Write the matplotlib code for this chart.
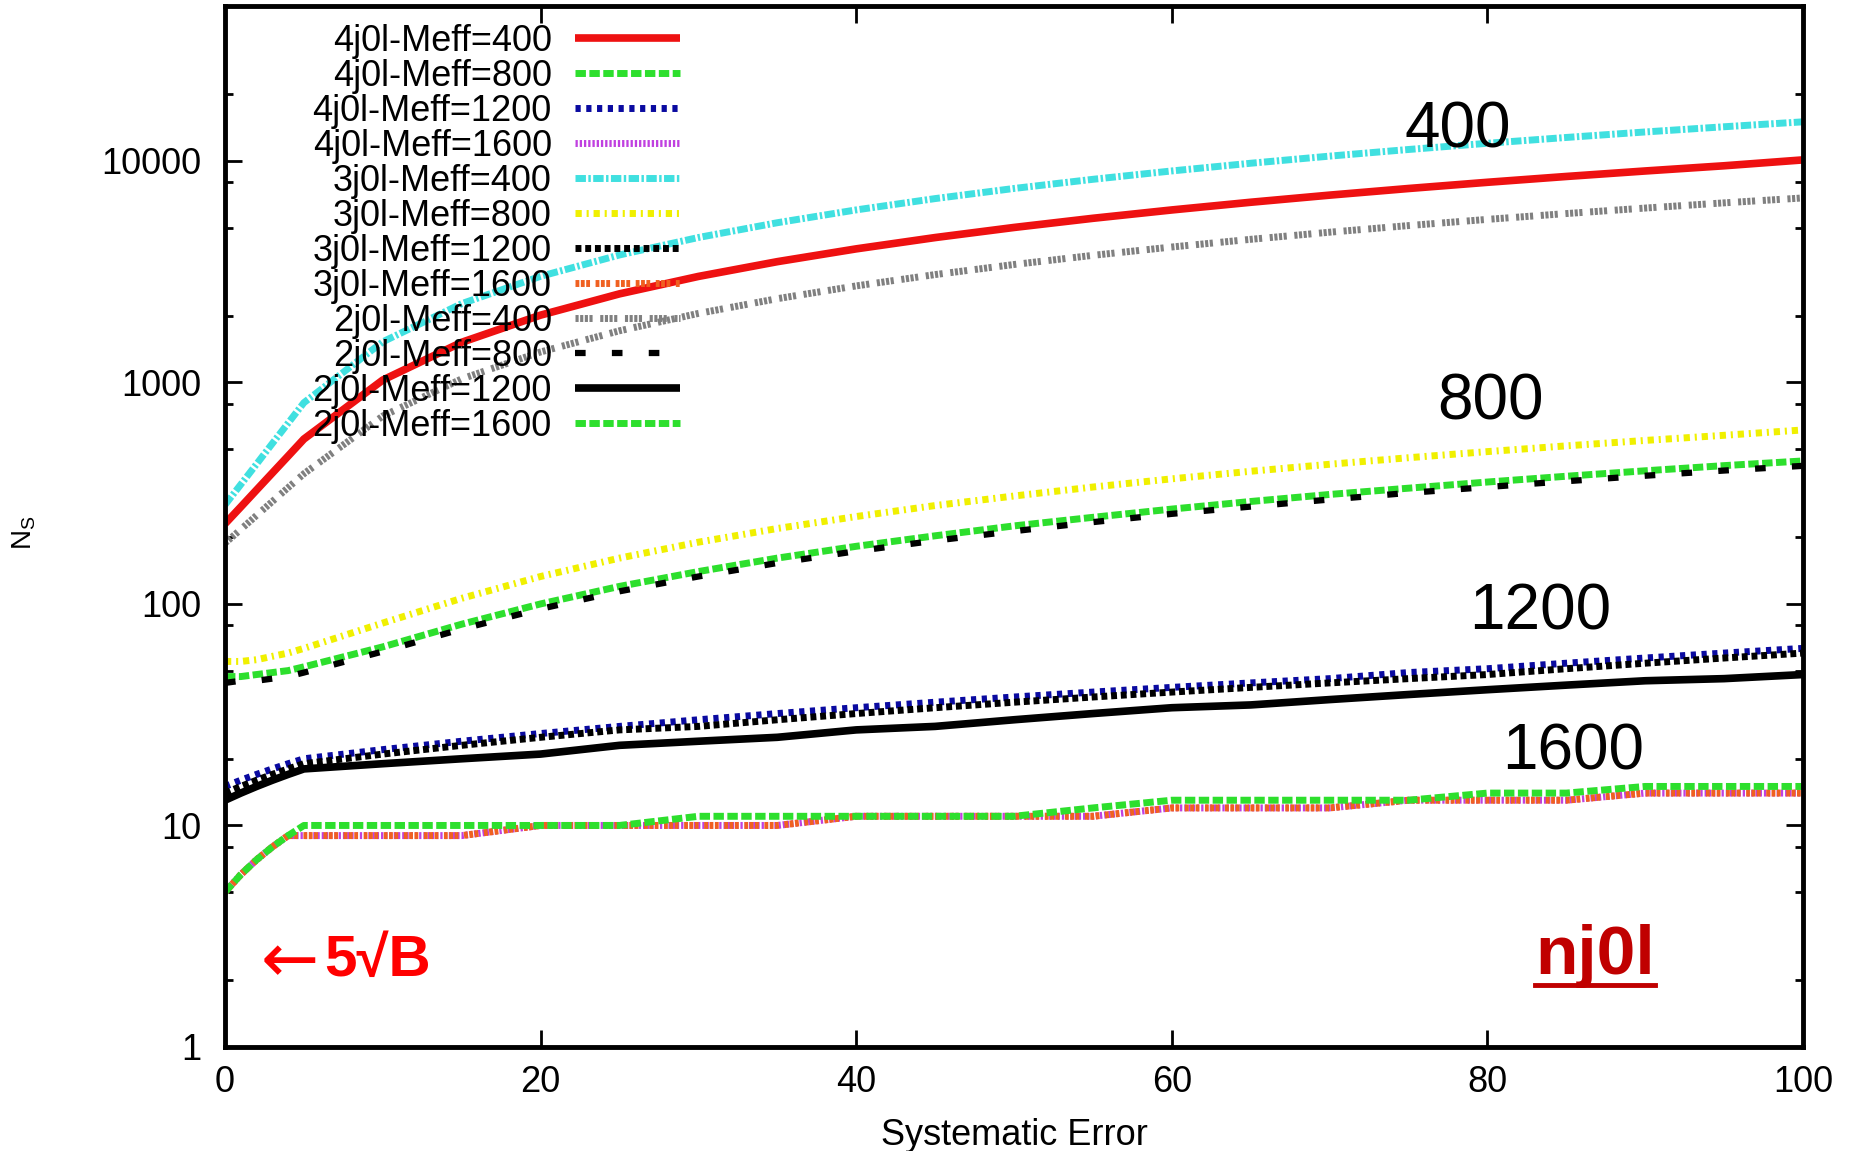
import matplotlib
matplotlib.use('Agg')
import matplotlib.pyplot as plt
from matplotlib.lines import Line2D
from matplotlib.ticker import LogLocator, NullFormatter, NullLocator

plt.rcParams['font.family'] = ['Liberation Sans', 'DejaVu Sans']

# ---------------- data ----------------
sys_err = [0, 1, 2, 3, 4, 5, 10, 15, 20, 25, 30, 35, 40, 45, 50, 55, 60, 65, 70, 75, 80, 85, 90, 95, 100]

series_labels = ['4j0l-Meff=400', '4j0l-Meff=800', '4j0l-Meff=1200', '4j0l-Meff=1600',
                 '3j0l-Meff=400', '3j0l-Meff=800', '3j0l-Meff=1200', '3j0l-Meff=1600',
                 '2j0l-Meff=400', '2j0l-Meff=800', '2j0l-Meff=1200', '2j0l-Meff=1600']

n4j_400 = [230, 274, 327, 390, 465, 555, 1025, 1517, 2012, 2510, 3008, 3507, 4006, 4505, 5004,
           5504, 6003, 6503, 7002, 7502, 8002, 8501, 9001, 9501, 10100]
n4j_800 = [47, 47, 48, 49, 50, 52, 64, 81, 100, 120, 140, 161, 182, 203, 225, 246, 268, 290, 312,
           333, 355, 377, 399, 421, 442]
n4j_1200 = [15, 16, 17, 18, 19, 20, 22, 24, 26, 28, 30, 32, 34, 36, 38, 40, 42, 44, 46, 49, 51, 54,
            57, 60, 63]
n4j_1600 = [5, 6, 7, 8, 9, 9, 9, 9, 10, 10, 10, 10, 11, 11, 11, 11, 12, 12, 12, 13, 13, 13, 14, 14, 14]

n3j_400 = [280, 346, 428, 530, 655, 810, 1525, 2267, 3012, 3760, 4508, 5257, 6006, 6755, 7505,
           8254, 9004, 9754, 10503, 11253, 12003, 12752, 13502, 14252, 15001]
n3j_800 = [55, 55, 56, 58, 60, 63, 82, 106, 133, 161, 190, 219, 248, 278, 307, 337, 367, 397, 427,
           457, 487, 517, 547, 577, 610]
n3j_1200 = [14, 15, 16, 17, 18, 19, 21, 23, 25, 27, 28, 30, 32, 34, 36, 38, 40, 42, 44, 46, 48, 51,
            54, 57, 60]
n3j_1600 = [5, 6, 7, 8, 9, 9, 9, 9, 10, 10, 10, 10, 11, 11, 11, 11, 12, 12, 12, 13, 13, 13, 14, 14, 14]

n2j_400 = [188, 217, 251, 290, 335, 387, 705, 1037, 1372, 1710, 2048, 2387, 2726, 3066, 3405,
           3745, 4084, 4424, 4763, 5103, 5443, 5782, 6122, 6462, 6801]
n2j_800 = [44, 45, 45, 46, 47, 49, 61, 77, 95, 114, 133, 153, 173, 193, 213, 234, 255, 275, 296,
           317, 337, 358, 379, 400, 420]
n2j_1200 = [13, 14, 15, 16, 17, 18, 19, 20, 21, 23, 24, 25, 27, 28, 30, 32, 34, 35, 37, 39, 41, 43,
            45, 46, 48]
n2j_1600 = [5, 6, 7, 8, 9, 10, 10, 10, 10, 10, 11, 11, 11, 11, 11, 12, 13, 13, 13, 13, 14, 14, 15, 15, 15]

all_series = [n4j_400, n4j_800, n4j_1200, n4j_1600,
              n3j_400, n3j_800, n3j_1200, n3j_1600,
              n2j_400, n2j_800, n2j_1200, n2j_1600]

x_ticks = [0, 20, 40, 60, 80, 100]
x_tick_labels = ['0', '20', '40', '60', '80', '100']
y_ticks = [1, 10, 100, 1000, 10000]
y_tick_labels = ['1', '10', '100', '1000', '10000']

mass_labels = ['400', '800', '1200', '1600']

# ---------------- styles ----------------
colors = ['#ee1111', '#2ddf2d', '#0a0aa0', '#c040e0',
          '#40e0e0', '#f0f000', '#000000', '#f06020',
          '#808080', '#000000', '#000000', '#2ddf2d']
dashes = [None, (1.5, 0.5), (0.75, 0.8), (0.33, 0.28),
          (1.5, 0.35, 0.35, 0.35), (0.9, 0.7, 0.3, 0.7), (0.85, 0.55), (0.55, 0.22, 0.55, 0.22, 0.55, 0.8),
          (0.45, 0.22, 0.45, 0.22, 0.45, 0.22, 0.45, 1.1), (1.7, 4.2), None, (1.5, 0.5)]
widths = [5.5, 5, 5, 5, 5, 5, 5, 5, 5, 4.5, 5.5, 5]

W, H = 1857, 1151
fig = plt.figure(figsize=(W / 100, H / 100), dpi=100)
ax = fig.add_axes([225 / W, 1 - 1047 / H, (1803 - 225) / W, (1047 - 6) / H])

for vals, lab, c, d, lw in zip(all_series, series_labels, colors, dashes, widths):
    line, = ax.plot(sys_err, vals, color=c, lw=lw, label=lab, solid_capstyle='butt',
                    dash_capstyle='butt')
    if d is not None:
        line.set_dashes(d)

ax.set_yscale('log')
ax.set_xlim(0, 100)
ax.set_ylim(1, 50000)

ax.set_xticks(x_ticks)
ax.set_xticklabels(x_tick_labels)
ax.set_yticks(y_ticks)
ax.set_yticklabels(y_tick_labels)
ax.yaxis.set_minor_locator(LogLocator(base=10, subs=[2, 5, 8]))
ax.yaxis.set_minor_formatter(NullFormatter())
ax.xaxis.set_minor_locator(NullLocator())

ax.tick_params(which='major', direction='in', length=12, width=2, top=True, right=True,
               labelsize=26)
ax.tick_params(which='minor', direction='in', length=6, width=2, top=True, right=True)
ax.tick_params(axis='x', which='major', pad=13)
ax.tick_params(axis='y', which='major', pad=17)
for sp in ax.spines.values():
    sp.set_linewidth(3.5)

ax.set_xlabel('Systematic Error', fontsize=26, labelpad=13)
fig.text(24 / W, 1 - 533 / H, r'$\mathregular{N_S}$', rotation=90, fontsize=20,
         ha='center', va='center')

leg = ax.legend(loc='upper right', bbox_to_anchor=(680 / W, 1 - 24 / H),
                bbox_transform=fig.transFigure, frameon=False, markerfirst=False,
                fontsize=26, handlelength=2.9, handletextpad=0.65, labelspacing=0.0,
                borderpad=0, borderaxespad=0)

# big mass labels
label_pos = [(1458, 130), (1490, 402), (1540, 612), (1573, 753)]
for t, (px, py) in zip(mass_labels, label_pos):
    fig.text(px / W, 1 - py / H, t, fontsize=46, ha='center', va='center')

fig.text(290 / W, 1 - 963 / H, '\u2190', fontsize=50, family=['DejaVu Sans'],
         color='#ff0000', ha='center', va='center')
fig.text(378 / W, 1 - 961 / H, '5\u221aB', fontsize=42, fontweight='bold',
         color='#ff0000', ha='center', va='center')

tx = fig.text(1595 / W, 1 - 956 / H, 'nj0l', fontsize=50, fontweight='bold',
              color='#c00000', ha='center', va='center')
fig.canvas.draw()
bb = tx.get_window_extent()
fig.add_artist(Line2D([bb.x0 / W, bb.x1 / W], [1 - 985 / H, 1 - 985 / H],
                      transform=fig.transFigure, color='#c00000', lw=3.5))

fig.savefig('out.png', dpi=100)
